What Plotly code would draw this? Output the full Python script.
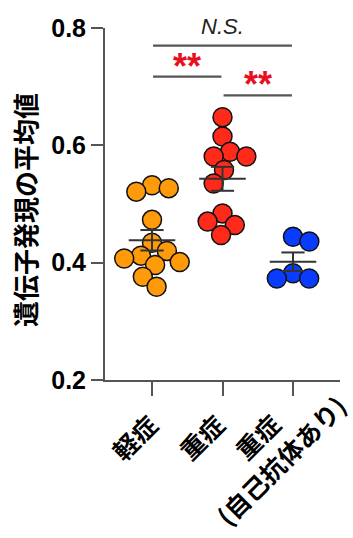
import numpy as np
import plotly.graph_objects as go

# ---------------- data ----------------
categories = ["軽症", "重症", "重症<br>(自己抗体あり)"]
mild = [0.532, 0.527, 0.521, 0.473, 0.434, 0.420, 0.412, 0.407, 0.401, 0.396, 0.376, 0.359]
severe = [0.648, 0.615, 0.589, 0.581, 0.581, 0.558, 0.535, 0.484, 0.470, 0.464, 0.447]
severe_auto = [0.444, 0.436, 0.382, 0.373, 0.373]
y_ticks = [0.2, 0.4, 0.6, 0.8]
comparisons = [(0, 2, "N.S."), (0, 1, "**"), (1, 2, "**")]
comparison_levels = [0.770, 0.717, 0.685]
y_title = "遺伝子発現の平均値"

groups = [mild, severe, severe_auto]
colors = ["#ff9a0a", "#ff2a1a", "#0a3cff"]

# ---------------- layout constants ----------------
W, H = 353, 538
M = dict(l=105, r=13, t=28, b=158)
x_range = [-0.667, 2.667]
y_range = [0.2, 0.8]
px_x = (W - M["l"] - M["r"]) / (x_range[1] - x_range[0])
px_y = (H - M["t"] - M["b"]) / (y_range[1] - y_range[0])

LATIN = "Liberation Sans, Arial, sans-serif"
CJK = "Noto Sans CJK JP, sans-serif"


def swarm(vals, min_d=17.0):
    placed, offs = [], []
    side = 1
    for v in vals:
        yv = v * px_y
        cands = [0.0]
        for (qx, qy) in placed:
            dy = abs(yv - qy)
            if dy < min_d:
                dx = np.sqrt(min_d ** 2 - dy ** 2)
                cands += [qx + dx, qx - dx]
        ok = [c for c in cands
              if all((c - qx) ** 2 + (yv - qy) ** 2 >= min_d ** 2 - 1e-6 for qx, qy in placed)]
        best = min(ok, key=lambda c: (round(abs(c), 6), -side * c))
        if best != 0:
            side = -side
        placed.append((best, yv))
        offs.append(best / px_x)
    return offs


fig = go.Figure()

# points
for i, (vals, col) in enumerate(zip(groups, colors)):
    offs = swarm(vals)
    fig.add_trace(go.Scatter(
        x=[i + o for o in offs], y=vals, mode="markers",
        marker=dict(size=19, color=col, line=dict(color="#111111", width=1.5)),
        showlegend=False, hoverinfo="y", cliponaxis=False))

# mean +/- SEM
for i, vals in enumerate(groups):
    a = np.array(vals)
    m = a.mean()
    s = a.std(ddof=1) / np.sqrt(len(a))
    hw, cw = 0.33, 0.165
    fig.add_trace(go.Scatter(
        x=[i - hw, i + hw, None, i, i, None, i - cw, i + cw, None, i - cw, i + cw],
        y=[m, m, None, m - s, m + s, None, m + s, m + s, None, m - s, m - s],
        mode="lines", line=dict(color="#333333", width=2),
        showlegend=False, hoverinfo="skip", cliponaxis=False))

# significance brackets
annotations = []
shapes = []
for (a, b, label), lvl in zip(comparisons, comparison_levels):
    shapes.append(dict(type="line", xref="x", yref="y", x0=a + 0.015, x1=b - 0.015,
                       y0=lvl, y1=lvl, line=dict(color="#555555", width=2.2)))
    if label == "N.S.":
        font = dict(family=LATIN, size=22, color="#222222", style="italic")
        ysh = 5
    else:
        font = dict(family=LATIN, size=36, color="#e8101e", weight="bold")
        ysh = -12
    annotations.append(dict(x=(a + b) / 2, y=lvl, xref="x", yref="y", text=label,
                            showarrow=False, xanchor="center", yanchor="bottom",
                            yshift=ysh, font=font))

# category labels (rotated -45 deg, lines centred, stacked perpendicular to text)
label_centers = [(-18, -57), (-22, -57), (-24, -68)]   # block centre offset from tick (px)
line_gap = 33
ux, uy = np.cos(np.pi / 4), np.sin(np.pi / 4)          # perpendicular (down-right) unit
for i, (cat, (cx, cy)) in enumerate(zip(categories, label_centers)):
    lines = cat.split("<br>")
    n = len(lines)
    for k, line in enumerate(lines):
        d = (k - (n - 1) / 2) * line_gap
        annotations.append(dict(x=i, y=y_range[0], xref="x", yref="y", text=line,
                                showarrow=False, textangle=-45,
                                xanchor="center", yanchor="middle",
                                xshift=cx + d * ux, yshift=cy - d * uy,
                                font=dict(family=CJK, size=25, color="#000000", weight="bold")))

# y-axis title
annotations.append(dict(x=0, y=0.5, xref="paper", yref="paper", text=y_title,
                        showarrow=False, textangle=-90, xanchor="center", yanchor="middle",
                        xshift=-81, yshift=-6,
                        font=dict(family=CJK, size=26, color="#000000", weight="bold")))

fig.update_layout(
    width=W, height=H, margin=M,
    paper_bgcolor="white", plot_bgcolor="white",
    showlegend=False,
    shapes=shapes, annotations=annotations,
    xaxis=dict(range=x_range, tickvals=[0, 1, 2], showticklabels=False,
               ticks="outside", ticklen=14, tickwidth=2, tickcolor="#555555",
               showline=True, linecolor="#555555", linewidth=2,
               showgrid=False, zeroline=False, fixedrange=True),
    yaxis=dict(range=y_range, tickvals=y_ticks, tickformat=".1f",
               ticks="outside", ticklen=12, tickwidth=2, tickcolor="#555555",
               showline=True, linecolor="#555555", linewidth=2,
               showgrid=False, zeroline=False, fixedrange=True,
               tickfont=dict(family=LATIN, size=25, color="#000000", weight="bold")),
)

fig.write_html("out.html", config={"displayModeBar": False})
